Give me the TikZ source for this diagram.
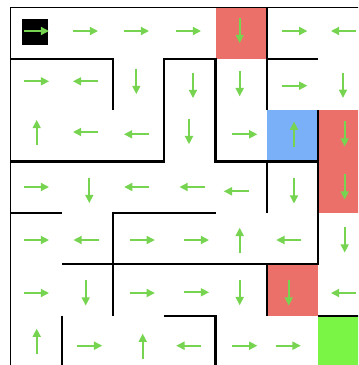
\documentclass[tikz,border=0pt]{standalone}
\usetikzlibrary{arrows.meta}
\definecolor{pgreen}{RGB}{118,212,80}
\definecolor{cred}{RGB}{236,112,106}
\definecolor{cblue}{RGB}{122,176,248}
\definecolor{cgreen}{RGB}{122,245,70}
\begin{document}
\begin{tikzpicture}[x=0.019455cm,y=-0.019455cm,
  wall/.style={line width=1.15pt, line join=miter, black},
  border/.style={line width=0.8pt, black},
  pol/.style={draw=pgreen, line width=1.1pt, -{Triangle[length=4.6pt,width=4.4pt]}}]
\useasboundingbox (0,0) rectangle (358,365);
\clip (0,0) rectangle (358,365);
% coloured cells
\fill[cred] (215.5,7.3) rectangle (266.8,58.7);
\fill[cred] (318.1,110.1) rectangle (369.4,212.9);
\fill[cred] (266.8,264.3) rectangle (318.1,315.7);
\fill[cblue] (266.8,110.1) rectangle (318.1,161.5);
\fill[cgreen] (318.1,315.7) rectangle (369.4,367.1);
\fill[black] (22,19.3) rectangle (48.3,45);
% border
\draw[border] (10.3,367.1) -- (10.3,7.3) -- (369.4,7.3);
% walls
\draw[wall] (10.3,58.7) -- (112.9,58.7) -- (112.9,110.1);
\draw[wall] (10.3,161.5) -- (164.2,161.5) -- (164.2,58.7) -- (215.5,58.7) -- (215.5,161.5) -- (318.1,161.5);
\draw[wall] (266.8,7.3) -- (266.8,110.1);
\draw[wall] (266.8,58.7) -- (318.1,58.7);
\draw[wall] (318.1,110.1) -- (318.1,264.3) -- (61.6,264.3);
\draw[wall] (266.8,161.5) -- (266.8,212.9);
\draw[wall] (10.3,212.9) -- (61.6,212.9);
\draw[wall] (215.5,212.9) -- (112.9,212.9) -- (112.9,315.7);
\draw[wall] (266.8,264.3) -- (266.8,315.7);
\draw[wall] (61.6,315.7) -- (61.6,367.1);
\draw[wall] (164.2,315.7) -- (215.5,315.7) -- (215.5,367.1);
\draw[wall] (318.1,315.7) -- (369.4,315.7);
% policy arrows
\foreach \x/\y in {36.5/31, 85.5/31, 136.5/31, 188.5/31, 294.8/31,
  36.5/81.3, 294.8/85.7, 244.8/134.3, 36.5/187, 36.5/240, 142.3/240, 196.5/240,
  36.5/293, 142.3/293, 196.5/292.3, 89.7/345.7, 244.8/345.7, 288.2/345.7}
  \draw[pol] (\x-12.6,\y) -- (\x+12.6,\y);
\foreach \x/\y in {343.5/31, 85.5/81.3, 85.5/132, 136.5/134.3, 136.7/187, 192/187,
  236.3/191.3, 86/240, 288.8/240, 343.5/293, 188.8/345.7}
  \draw[pol] (\x+12.6,\y) -- (\x-12.6,\y);
\foreach \x/\y in {239.7/30.5, 136.3/81.5, 193/85.5, 239.7/83.7, 343/85.3, 189/131.7,
  344.7/134, 89.3/190.5, 294/191, 344.7/187, 344.7/240, 85.7/293, 239.7/292.7, 288.7/293}
  \draw[pol] (\x,\y-12.6) -- (\x,\y+12.6);
\foreach \x/\y in {36.7/132.5, 294/134.2, 239.7/240.3, 36.7/341.2, 142.7/346.2}
  \draw[pol] (\x,\y+12.6) -- (\x,\y-12.6);
\end{tikzpicture}
\end{document}
